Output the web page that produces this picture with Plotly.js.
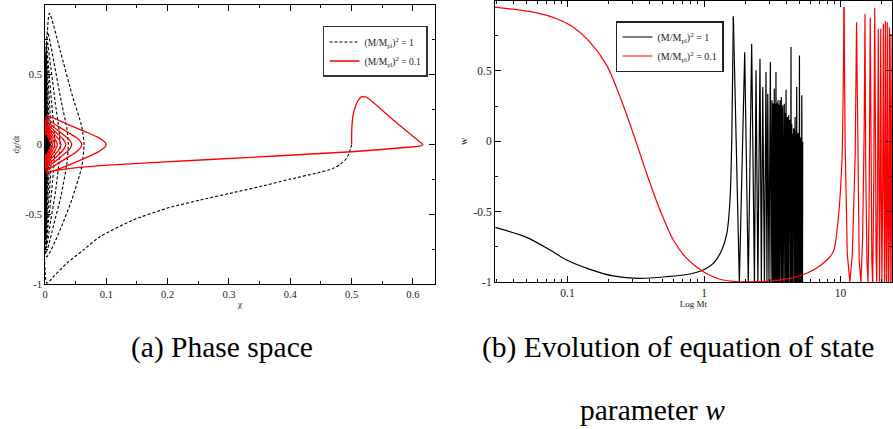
<!DOCTYPE html>
<html><head><meta charset="utf-8">
<script src="https://cdn.plot.ly/plotly-3.0.1.min.js"></script>
<style>html,body{margin:0;padding:0;background:#fff;} #chart{width:893px;height:429px;}</style>
</head><body><div id="chart"></div>
<script>
// ---------- Panel (a): phase space  [chi, dchi/dt] ----------
var blackMain = [[0.500,0.000],[0.497,-0.050],[0.492,-0.099],[0.482,-0.140],[0.470,-0.171],[0.443,-0.205],[0.400,-0.248],[0.362,-0.290],[0.307,-0.345],[0.253,-0.398],[0.199,-0.457],[0.144,-0.541],[0.0898,-0.661],[0.0625,-0.756],[0.0354,-0.852],[0.0136,-0.948],[0.003,-0.995]];
var blackArcs = [
 [0.0071,0.940],[0.0245,0.677],[0.0435,0.367],[0.0599,0.128],[0.0636,0.0],[0.0599,-0.159],[0.0435,-0.398],[0.0245,-0.613],[0.0027,-0.804],
 [0.004,0.81],[0.0145,0.59],[0.026,0.32],[0.0358,0.11],[0.038,0.0],[0.0358,-0.13],[0.026,-0.37],[0.0145,-0.57],[0.002,-0.77],
 [0.003,0.76],[0.0095,0.55],[0.0167,0.30],[0.023,0.10],[0.0245,0.0],[0.023,-0.12],[0.0167,-0.35],[0.0095,-0.54],[0.002,-0.74],
 [0.002,0.73],[0.0062,0.53],[0.011,0.29],[0.015,0.10],[0.016,0.0],[0.015,-0.12],[0.011,-0.33],[0.0062,-0.52],[0.002,-0.72],
 [0.002,0.71],[0.0045,0.51],[0.0076,0.28],[0.0103,0.09],[0.011,0.0],[0.0103,-0.11],[0.0076,-0.32],[0.0045,-0.50],[0.0015,-0.70],
 [0.0015,0.69],[0.0033,0.50],[0.0055,0.27],[0.0075,0.09],[0.008,0.0],[0.0075,-0.11],[0.0055,-0.31],[0.0033,-0.49],[0.0012,-0.68],
 [0.0012,0.67],[0.0025,0.48],[0.0041,0.26],[0.0056,0.09],[0.006,0.0],[0.0056,-0.10],[0.0041,-0.30],[0.0025,-0.47],[0.001,-0.66],
 [0.001,0.64],[0.002,0.46],[0.0031,0.25],[0.0042,0.08],[0.0045,0.0],[0.0042,-0.10],[0.0031,-0.29],[0.002,-0.45],[0.0008,-0.62],
 [0.0008,0.62],[0.0018,0.45],[0.0028,0.24],[0.0037,0.08],[0.004,0.0],[0.0037,-0.09],[0.0028,-0.28],[0.0018,-0.44],[0.0007,-0.60],
 [0.0008,0.60],[0.0016,0.43],[0.0025,0.23],[0.0033,0.08],[0.0035,0.0],[0.0033,-0.09],[0.0025,-0.27],[0.0016,-0.42],[0.0006,-0.58],
 [0.0007,0.58],[0.0014,0.42],[0.0022,0.22],[0.0029,0.07],[0.0031,0.0],[0.0029,-0.08],[0.0022,-0.26],[0.0014,-0.40],[0.0006,-0.55],
 [0.0006,0.55],[0.0013,0.40],[0.002,0.21],[0.0026,0.07],[0.0028,0.0],[0.0026,-0.08],[0.002,-0.25],[0.0013,-0.38],[0.0005,-0.52],
 [0.0005,0.50],[0.0012,0.36],[0.0019,0.19],[0.0025,0.0],[0.0019,-0.21],[0.0012,-0.36],[0.0005,-0.48],
 [0.0005,0.46],[0.0012,0.33],[0.0019,0.17],[0.0024,0.0],[0.0019,-0.19],[0.0012,-0.33],[0.0005,-0.44],
 [0.0005,0.41],[0.0011,0.29],[0.0018,0.15],[0.0023,0.0],[0.0018,-0.16],[0.0011,-0.29],[0.0005,-0.39],
 [0.0005,0.36],[0.0011,0.25],[0.0017,0.12],[0.0022,0.0],[0.0017,-0.14],[0.0011,-0.25],[0.0005,-0.34],
 [0.0005,0.30],[0.0011,0.21],[0.0016,0.10],[0.0021,0.0],[0.0016,-0.11],[0.0011,-0.21],[0.0005,-0.29],
 [0.0005,0.25],[0.0011,0.17],[0.0016,0.08],[0.002,0.0],[0.0016,-0.09],[0.0011,-0.17],[0.0005,-0.24]
];
var blackCore = [[0.0012,0.068],[0.008,0.0],[0.0012,-0.068],[0.0012,0.058],[0.0075,0.0],[0.0012,-0.058],[0.0012,0.048],[0.007,0.0],[0.0012,-0.048],[0.0012,0.038],[0.0062,0.0],[0.0012,-0.038],[0.0012,0.028],[0.0055,0.0],[0.0012,-0.028],[0.0012,0.018],[0.0045,0.0],[0.0012,-0.018]];
var redMain = [[0.500,0.0],[0.5005,0.128],[0.5031,0.224],[0.508,0.292],[0.5115,0.322],[0.5168,0.343],[0.522,0.342],[0.526,0.335],[0.568,0.176],[0.608,0.030],[0.6163,0.0],[0.612,-0.009],[0.601,-0.016],[0.500,-0.052],[0.2535,-0.111],[0.0898,-0.152],[0.030,-0.178],[0.008,-0.195],[0.003,-0.205]];
var redArcs = [
 [0.003,0.200],[0.033,0.152],[0.0653,0.092],[0.084,0.056],[0.094,0.031],[0.0985,0.012],[0.0995,0.0],[0.0985,-0.013],[0.094,-0.033],[0.084,-0.060],[0.0653,-0.098],[0.033,-0.157],[0.003,-0.198],
 [0.003,0.178],[0.020,0.134],[0.039,0.083],[0.051,0.050],[0.057,0.026],[0.0593,0.010],[0.060,0.0],[0.0593,-0.011],[0.057,-0.028],[0.051,-0.053],[0.039,-0.087],[0.020,-0.139],[0.003,-0.180],
 [0.003,0.163],[0.0145,0.124],[0.028,0.077],[0.037,0.045],[0.0415,0.023],[0.043,0.009],[0.0435,0.0],[0.043,-0.010],[0.0415,-0.025],[0.037,-0.048],[0.028,-0.080],[0.0145,-0.128],[0.003,-0.165],
 [0.003,0.150],[0.0115,0.114],[0.022,0.071],[0.0288,0.041],[0.0322,0.021],[0.0334,0.008],[0.0338,0.0],[0.0334,-0.009],[0.0322,-0.022],[0.0288,-0.043],[0.022,-0.074],[0.0115,-0.118],[0.003,-0.152],
 [0.003,0.138],[0.009,0.104],[0.017,0.065],[0.0222,0.038],[0.0248,0.019],[0.0257,0.007],[0.026,0.0],[0.0257,-0.008],[0.0248,-0.020],[0.0222,-0.040],[0.017,-0.068],[0.009,-0.108],[0.003,-0.140],
 [0.003,0.127],[0.0075,0.097],[0.013,0.061],[0.0171,0.034],[0.0191,0.016],[0.020,0.0],[0.0191,-0.017],[0.0171,-0.036],[0.013,-0.064],[0.0075,-0.100],[0.003,-0.130],
 [0.002,0.117],[0.006,0.089],[0.010,0.056],[0.0133,0.031],[0.0149,0.014],[0.0155,0.0],[0.0149,-0.015],[0.0133,-0.033],[0.010,-0.059],[0.006,-0.092],[0.002,-0.120],
 [0.002,0.107],[0.0048,0.082],[0.0078,0.051],[0.0103,0.028],[0.0116,0.012],[0.012,0.0],[0.0116,-0.013],[0.0103,-0.030],[0.0078,-0.054],[0.0048,-0.085],[0.002,-0.110],
 [0.002,0.097],[0.004,0.074],[0.006,0.046],[0.0078,0.025],[0.0087,0.010],[0.009,0.0],[0.0087,-0.011],[0.0078,-0.027],[0.006,-0.049],[0.004,-0.077],[0.002,-0.100],
 [0.0015,0.088],[0.0042,0.048],[0.0064,0.018],[0.007,0.0],[0.0064,-0.019],[0.0042,-0.049],[0.0015,-0.090],
 [0.0015,0.078],[0.0033,0.043],[0.005,0.016],[0.0055,0.0],[0.005,-0.017],[0.0033,-0.044],[0.0015,-0.080],
 [0.0015,0.068],[0.0027,0.038],[0.0041,0.014],[0.0045,0.0],[0.0041,-0.015],[0.0027,-0.039],[0.0015,-0.070],
 [0.0015,0.058],[0.0022,0.033],[0.0034,0.012],[0.0037,0.0],[0.0034,-0.013],[0.0022,-0.034],[0.0015,-0.060],
 [0.0012,0.048],[0.0019,0.027],[0.0028,0.010],[0.003,0.0],[0.0028,-0.011],[0.0019,-0.028],[0.0012,-0.050]
];

// ---------- Panel (b): equation of state w vs Mt  [t, w] ----------
var wBlackSmooth = [
 [0.0296,-0.612],[0.0502,-0.683],[0.0745,-0.773],[0.0986,-0.844],[0.146,-0.910],[0.217,-0.957],[0.340,-0.974],[0.533,-0.962],[0.789,-0.943],[0.989,-0.915],[1.17,-0.868],[1.35,-0.773],[1.47,-0.655],[1.55,-0.418],[1.60,0.055],[1.64,0.887]
];
var wBlackOsc = [
 [1.64,0.887],
 [1.815,-1],[1.986,0.633],[2.11,-1],[2.234,0.693],[2.34,-1],[2.404,0.504],[2.48,-1],[2.570,0.586],[2.63,-1],[2.692,0.385],[2.77,-1],[2.844,0.492],[2.89,-1],[2.931,0.338],[2.99,-1],[3.062,0.563],[3.10,-1],[3.148,0.291],
 [3.18,-1],[3.214,0.27],[3.245,-1],[3.273,0.374],[3.296,-1],[3.319,0.27],[3.342,-1],[3.365,0.492],[3.392,-1],[3.420,0.27],[3.452,-1],[3.483,0.291],[3.511,-1],[3.540,0.26],[3.573,-1],[3.606,0.291],[3.627,-1],[3.648,0.25],[3.664,-1],[3.681,0.314],
 [3.707,-1],[3.733,0.24],[3.754,-1],[3.776,0.255],[3.802,-1],[3.828,0.22],[3.850,-1],[3.873,0.267],[3.904,-1],[3.936,0.20],[3.963,-1],[3.990,0.366],[4.022,-1],[4.055,0.172],[4.083,-1],[4.111,0.17],[4.140,-1],[4.169,0.184],[4.198,-1],[4.227,0.15],
 [4.251,-1],[4.276,0.14],[4.305,-1],[4.335,0.669],[4.365,-1],[4.395,0.12],[4.431,-1],[4.467,0.055],[4.498,-1],[4.529,0.09],[4.555,-1],[4.581,0.08],[4.613,-1],[4.645,0.172],[4.677,-1],[4.710,0.07],[4.742,-1],[4.775,0.385],[4.808,-1],[4.842,0.05],
 [4.870,-1],[4.898,0.06],[4.926,-1],[4.955,0.05],[4.977,-1],[5.000,0.610],[5.029,-1],[5.058,0.03],[5.093,-1],[5.129,0.02],[5.164,-1],[5.200,0.326],[5.224,-1],[5.248,0.0],[5.266,-1],[5.284,-0.005]
];
var wRedSmooth = [
 [0.0294,0.953],[0.0562,0.917],[0.0834,0.870],[0.110,0.811],[0.146,0.704],[0.194,0.539],[0.243,0.314],[0.303,0.055],[0.380,-0.229],[0.476,-0.489],[0.596,-0.702],[0.746,-0.832],[0.989,-0.927],[1.38,-0.986],[2.43,-0.998],[4.27,-0.974],[5.65,-0.938],[7.48,-0.867],[8.85,-0.785],[9.38,-0.65],[10.2,-0.18],[10.5,0.53],[10.6,0.953]
];
var wRedOsc = [
 [10.6,0.953],
 [10.8,0.0],[11.2,-0.8],[11.7,-1],[12.2,-0.8],[12.8,-0.1],[13.1,0.846],[13.4,-0.3],[13.7,-0.85],[14.1,-1],[14.5,-0.7],[14.9,0.1],[15.1,0.905],[15.3,-0.2],[15.6,-0.85],[15.9,-1],[16.2,-0.4],[16.5,0.877],
 [16.7,-0.3],[16.95,-0.85],[17.2,-1],[17.5,-0.3],[17.8,0.948],[18.0,-0.2],[18.2,-0.8],[18.4,-1],[18.65,-0.4],[18.9,0.799],[19.1,-0.4],[19.3,-1],[19.5,-0.4],[19.7,0.799],[19.9,-0.4],[20.1,-1],[20.35,-0.3],[20.6,0.835],
 [20.8,-0.4],[21.0,-1],[21.15,-0.3],[21.3,0.853],[21.5,-0.5],[21.7,-1],[21.85,-0.4],[22.0,0.846],[22.2,-0.5],[22.4,-1],[22.6,-0.3],[22.8,0.81],[22.95,-0.5],[23.1,-1],[23.25,-0.3],[23.4,0.764],[23.6,-0.4],[23.8,-1],[23.95,-0.3],[24.1,0.78],[24.3,-0.4],[24.5,-1]
];

// ---------- ticks & labels ----------
var chiTicks = [0,0.1,0.2,0.3,0.4,0.5,0.6];
var chiTickText = ['0','0.1','0.2','0.3','0.4','0.5','0.6'];
var chiMinor = [0.05,0.15,0.25,0.35,0.45,0.55];
var yTicks = [-1,-0.5,0,0.5,1];
var yTickText = ['-1','-0.5','0','0.5','1'];
var yMinor = [-0.75,-0.25,0.25,0.75];
var tTicks = [0.1,1,10];
var tTickText = ['0.1','1','10'];
var tMinor = [0.03,0.04,0.05,0.06,0.07,0.08,0.09,0.2,0.3,0.4,0.5,0.6,0.7,0.8,0.9,2,3,4,5,6,7,8,9,20];
var seriesNames = ['(M/M<sub>pl</sub>)<sup>2</sup> = 1','(M/M<sub>pl</sub>)<sup>2</sup> = 0.1'];
var captions = ['(a) Phase space','(b) Evolution of equation of state','parameter <i>w</i>'];

function xs(a){return a.map(function(p){return p[0];});}
function ys(a){return a.map(function(p){return p[1];});}

var SERIF = "'Liberation Serif', 'DejaVu Serif', serif";
var blackPhase = blackMain.concat(blackArcs);
var redPhase = redMain.concat(redArcs);

var traces = [
 {x: xs(blackPhase), y: ys(blackPhase), xaxis:'x', yaxis:'y', mode:'lines', name: seriesNames[0], legend:'legend',
  line:{color:'#000', width:1.1, dash:'3px,2px', shape:'spline', smoothing:0.6}},
 {x: xs(redPhase), y: ys(redPhase), xaxis:'x', yaxis:'y', mode:'lines', name: seriesNames[1], legend:'legend',
  line:{color:'#ff0000', width:1.3, shape:'spline', smoothing:0.5}},
 {x: xs(blackCore), y: ys(blackCore), xaxis:'x', yaxis:'y', mode:'lines', showlegend:false,
  line:{color:'#000', width:1.3}},
 {x: xs(wBlackSmooth), y: ys(wBlackSmooth), xaxis:'x2', yaxis:'y2', mode:'lines', name: seriesNames[0], legend:'legend2',
  line:{color:'#000', width:1.2, shape:'spline', smoothing:0.8}},
 {x: xs(wBlackOsc), y: ys(wBlackOsc), xaxis:'x2', yaxis:'y2', mode:'lines', showlegend:false,
  line:{color:'#000', width:1.2}},
 {x: xs(wRedSmooth), y: ys(wRedSmooth), xaxis:'x2', yaxis:'y2', mode:'lines', name: seriesNames[1], legend:'legend2',
  line:{color:'#ff0000', width:1.2, shape:'spline', smoothing:0.8}},
 {x: xs(wRedOsc), y: ys(wRedOsc), xaxis:'x2', yaxis:'y2', mode:'lines', showlegend:false,
  line:{color:'#ff0000', width:1.2}}
];

function axisBase(extra){
  var a = {showline:true, linecolor:'#000', linewidth:1, mirror:'ticks', ticks:'inside', ticklen:6, tickwidth:1, tickcolor:'#000',
    showgrid:false, zeroline:false, automargin:false, tickfont:{family:SERIF, size:10.5, color:'#222'}};
  for (var k in extra) a[k] = extra[k];
  return a;
}

var layout = {
  width:893, height:429, paper_bgcolor:'#fff', plot_bgcolor:'#fff',
  margin:{l:0,r:0,t:0,b:0},
  font:{family:SERIF},
  showlegend:true,
  xaxis: axisBase({domain:[0.0504,0.4871], range:[0,0.636], anchor:'y', tickmode:'array', tickvals:chiTicks, ticktext:chiTickText,
    minor:{tickmode:'array', tickvals:chiMinor, ticks:'inside', ticklen:3, tickcolor:'#000'},
    title:{text:'χ', font:{family:SERIF, size:9, color:'#111'}, standoff:2}}),
  yaxis: axisBase({domain:[0.3380,0.9883], range:[-1,1], anchor:'x', tickmode:'array', tickvals:yTicks, ticktext:yTickText,
    minor:{tickmode:'array', tickvals:yMinor, ticks:'inside', ticklen:3, tickcolor:'#000'},
    title:{text:'dχ/dt', font:{family:SERIF, size:9, color:'#111'}, standoff:4}}),
  xaxis2: axisBase({domain:[0.5543,0.9989], type:'log', range:[-1.531,1.377], anchor:'y2', tickmode:'array', tickvals:tTicks, ticktext:tTickText,
    tickfont:{family:SERIF, size:11.5, color:'#222'},
    minor:{tickmode:'array', tickvals:tMinor, ticks:'inside', ticklen:3, tickcolor:'#000'},
    title:{text:'Log Mt', font:{family:SERIF, size:9, color:'#111'}, standoff:2}}),
  yaxis2: axisBase({domain:[0.3427,0.9988], range:[-1,1], anchor:'x2', tickmode:'array', tickvals:yTicks, ticktext:yTickText,
    tickfont:{family:SERIF, size:11.5, color:'#222'},
    minor:{tickmode:'array', tickvals:yMinor, ticks:'inside', ticklen:3, tickcolor:'#000'},
    title:{text:'w', font:{family:SERIF, size:10, color:'#111'}, standoff:3}}),
  legend: {x:0.3617, y:0.9394, xanchor:'left', yanchor:'top', bgcolor:'#fff', bordercolor:'#333', borderwidth:1.5,
    font:{family:SERIF, size:9.5, color:'#222'}, itemwidth:30, tracegroupgap:0},
  legend2: {x:0.6898, y:0.951, xanchor:'left', yanchor:'top', bgcolor:'#fff', bordercolor:'#222', borderwidth:1.5,
    font:{family:SERIF, size:10, color:'#222'}, itemwidth:30, tracegroupgap:0},
  annotations: [
    {text:captions[0], xref:'paper', yref:'paper', x:222/893, y:1-347/429, xanchor:'center', yanchor:'middle', showarrow:false,
     font:{family:SERIF, size:29.5, color:'#000'}},
    {text:captions[1], xref:'paper', yref:'paper', x:678/893, y:1-347/429, xanchor:'center', yanchor:'middle', showarrow:false,
     font:{family:SERIF, size:29.5, color:'#000'}},
    {text:captions[2], xref:'paper', yref:'paper', x:652/893, y:1-410/429, xanchor:'center', yanchor:'middle', showarrow:false,
     font:{family:SERIF, size:29.5, color:'#000'}}
  ]
};

Plotly.newPlot('chart', traces, layout, {displayModeBar:false, staticPlot:true});
</script></body></html>
